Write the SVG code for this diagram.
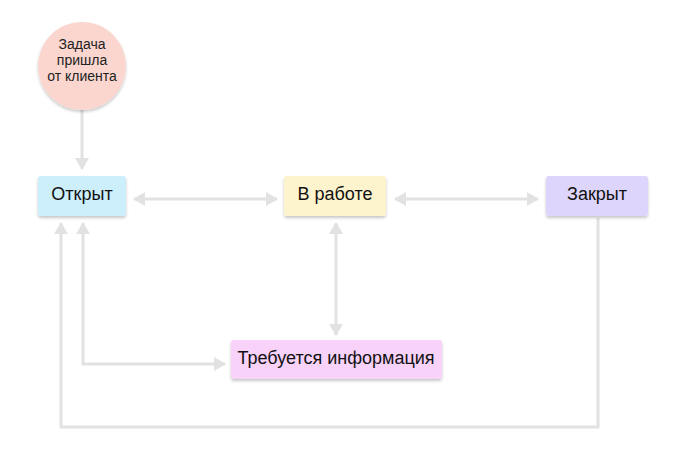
<svg xmlns="http://www.w3.org/2000/svg" width="683" height="455" viewBox="0 0 683 455">
<style>
.lbl{font-family:"Liberation Sans",Arial,sans-serif;font-size:18px;fill:#111;text-anchor:middle;dominant-baseline:central}
.sm{font-family:"Liberation Sans",Arial,sans-serif;font-size:14px;fill:#222;text-anchor:middle}
.c{fill:none;stroke:#e2e2e2;stroke-width:3}
.box{filter:url(#sh)}
</style>
<defs>
<filter id="sh" x="-20%" y="-30%" width="140%" height="170%">
<feDropShadow dx="0" dy="2" stdDeviation="1.5" flood-color="#000" flood-opacity="0.22"/>
</filter>
<marker id="ah" viewBox="0 0 12 14" refX="11" refY="7" markerWidth="12" markerHeight="14" markerUnits="userSpaceOnUse" orient="auto-start-reverse">
<path d="M0,0 L12,7 L0,14 Z" fill="#e2e2e2"/>
</marker>
</defs>
<g id="connectors">
<path class="c" d="M82,110 V169" marker-end="url(#ah)"/>
<path class="c" d="M134,199 H277" marker-start="url(#ah)" marker-end="url(#ah)"/>
<path class="c" d="M395,199 H538" marker-start="url(#ah)" marker-end="url(#ah)"/>
<path class="c" d="M336,223 V335" marker-start="url(#ah)" marker-end="url(#ah)"/>
<path class="c" d="M83,223 V364 H225" marker-start="url(#ah)" marker-end="url(#ah)"/>
<path class="c" d="M598,218 V427 H61 V223" marker-end="url(#ah)"/>
</g>
<g id="start">
<circle class="box" cx="82" cy="66" r="44" fill="#fbd6cf"/>
<text class="sm" x="82" y="49">Задача</text>
<text class="sm" x="82" y="65">пришла</text>
<text class="sm" x="82" y="81">от клиента</text>
</g>
<g id="open">
<rect class="box" x="38" y="176" width="88" height="40" rx="3" fill="#cdeffb"/>
<text class="lbl" x="82" y="194">Открыт</text>
</g>
<g id="inwork">
<rect class="box" x="284" y="176" width="102" height="40" rx="3" fill="#fdf3cd"/>
<text class="lbl" x="335" y="194">В работе</text>
</g>
<g id="closed">
<rect class="box" x="546" y="176" width="102" height="40" rx="3" fill="#ddd5fb"/>
<text class="lbl" x="597" y="194">Закрыт</text>
</g>
<g id="needinfo">
<rect class="box" x="231" y="340" width="211" height="39" rx="3" fill="#f8d2f9"/>
<text class="lbl" x="336" y="358">Требуется информация</text>
</g>
</svg>
